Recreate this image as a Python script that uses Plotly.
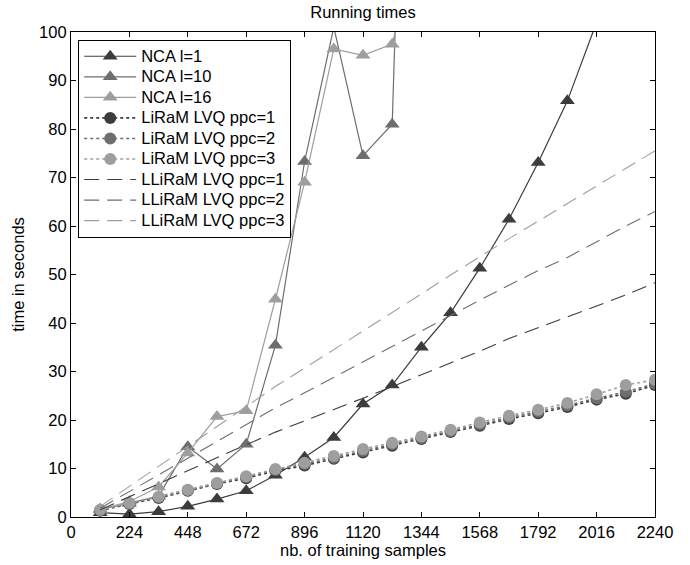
import plotly.graph_objects as go

x_samples = [112, 224, 336, 448, 560, 672, 784, 896, 1008, 1120,
             1232, 1344, 1456, 1568, 1680, 1792, 1904, 2016, 2128, 2240]

nca_l1 = [0.9, 0.6, 1.1, 2.2, 3.7, 5.4, 8.6, 12.3, 16.4, 23.3, 27.2, 35.0,
          42.1, 51.3, 61.4, 73.1, 85.8, 102.0]
nca_l10 = [1.6, 2.8, 4.3, 14.5, 9.9, 15.0, 35.4, 73.3, 101.0, 74.5, 81.0, 275.0]
nca_l16 = [1.6, 3.2, 6.2, 13.2, 20.7, 21.9, 44.9, 69.0, 96.5, 95.2, 97.5, 123.0]

liram_ppc1 = [1.3, 2.7, 3.9, 5.4, 6.8, 8.0, 9.5, 10.6, 12.0, 13.3, 14.7, 16.1,
              17.5, 18.8, 20.2, 21.4, 22.7, 24.2, 25.4, 27.2]
liram_ppc2 = [1.4, 2.8, 4.0, 5.5, 6.9, 8.2, 9.7, 10.9, 12.2, 13.6, 15.0, 16.3,
              17.7, 19.1, 20.5, 21.7, 23.0, 24.5, 25.8, 27.5]
liram_ppc3 = [1.5, 2.9, 4.2, 5.6, 7.0, 8.4, 9.9, 11.2, 12.6, 14.0, 15.3, 16.6,
              18.0, 19.5, 20.9, 22.1, 23.5, 25.3, 27.2, 28.3]

lliram_ppc1 = [1.5, 4.2, 6.9, 9.5, 12.2, 14.9, 17.5, 19.8, 22.2, 24.5, 26.9, 29.3,
               31.7, 34.2, 36.8, 39.0, 41.2, 43.5, 45.8, 48.3]
lliram_ppc2 = [1.8, 5.3, 8.7, 12.1, 15.6, 19.0, 22.5, 25.6, 28.8, 32.0, 35.2, 38.4,
               41.5, 44.7, 47.8, 50.8, 53.5, 56.8, 60.0, 63.0]
lliram_ppc3 = [2.2, 6.3, 10.4, 14.5, 18.6, 22.7, 26.9, 30.7, 34.5, 38.4, 42.2, 46.0,
               49.9, 53.7, 57.4, 61.0, 64.6, 68.3, 71.9, 75.5]

x_ticks = [0, 224, 448, 672, 896, 1120, 1344, 1568, 1792, 2016, 2240]
y_ticks = [0, 10, 20, 30, 40, 50, 60, 70, 80, 90, 100]

DARK, MID, LIGHT = "#3c3c3c", "#6e6e6e", "#9e9e9e"
FONT = "Liberation Sans, Arial, sans-serif"


def legend_name(s):
    # larger legend text while keeping the compact entry spacing
    return '<span style="font-size:16.5px">' + s + '</span>'


fig = go.Figure()

for name, ys, col in [("NCA l=1", nca_l1, DARK), ("NCA l=10", nca_l10, MID),
                      ("NCA l=16", nca_l16, LIGHT)]:
    fig.add_trace(go.Scatter(
        x=x_samples[:len(ys)], y=ys, name=legend_name(name), mode="lines+markers",
        line=dict(color=col, width=1.2),
        marker=dict(symbol="triangle-up", size=13, color=col, line=dict(width=0)),
    ))

for name, ys, col in [("LiRaM LVQ ppc=1", liram_ppc1, DARK),
                      ("LiRaM LVQ ppc=2", liram_ppc2, MID),
                      ("LiRaM LVQ ppc=3", liram_ppc3, LIGHT)]:
    fig.add_trace(go.Scatter(
        x=x_samples, y=ys, name=legend_name(name), mode="lines+markers",
        line=dict(color=col, width=1.6, dash="dot"),
        marker=dict(symbol="circle", size=12, color=col, line=dict(width=0)),
    ))

for name, ys, col in [("LLiRaM LVQ ppc=1", lliram_ppc1, DARK),
                      ("LLiRaM LVQ ppc=2", lliram_ppc2, MID),
                      ("LLiRaM LVQ ppc=3", lliram_ppc3, LIGHT)]:
    fig.add_trace(go.Scatter(
        x=x_samples, y=ys, name=legend_name(name), mode="lines",
        line=dict(color=col, width=1.1, dash="15px,8px"),
    ))

axis_common = dict(
    showline=True, linecolor="black", linewidth=1.2, mirror="ticks",
    ticks="inside", ticklen=5, tickcolor="black", tickwidth=1,
    showgrid=False, zeroline=False,
    tickfont=dict(family=FONT, size=16.5, color="black"),
)

fig.update_layout(
    width=690, height=565,
    margin=dict(l=71, r=35, t=32, b=48),
    paper_bgcolor="white", plot_bgcolor="white",
    font=dict(family=FONT, size=16.5, color="black"),
    title=dict(text="Running times", x=0.5, xanchor="center", xref="paper",
               yref="container", y=0.979, yanchor="middle",
               font=dict(family=FONT, size=16.5, color="black")),
    xaxis=dict(range=[0, 2240], tickvals=x_ticks, ticktext=[str(v) for v in x_ticks],
               title=dict(text="nb. of training samples", standoff=0,
                          font=dict(family=FONT, size=16.5)),
               **axis_common),
    yaxis=dict(range=[0, 100], tickvals=y_ticks, ticktext=[str(v) for v in y_ticks],
               title=dict(text="time in seconds", standoff=10,
                          font=dict(family=FONT, size=16.5)),
               **axis_common),
    legend=dict(x=0.012, y=0.984, xanchor="left", yanchor="top",
                bgcolor="white", bordercolor="black", borderwidth=1.2,
                font=dict(family=FONT, size=13.5, color="black"),
                tracegroupgap=0, itemwidth=52),
    showlegend=True,
)

# remove the default 8px page margin so the figure fills the window exactly
fig.write_html("out.html", config={"displayModeBar": False},
               post_script="document.body.style.margin='0';document.body.style.padding='0';")
